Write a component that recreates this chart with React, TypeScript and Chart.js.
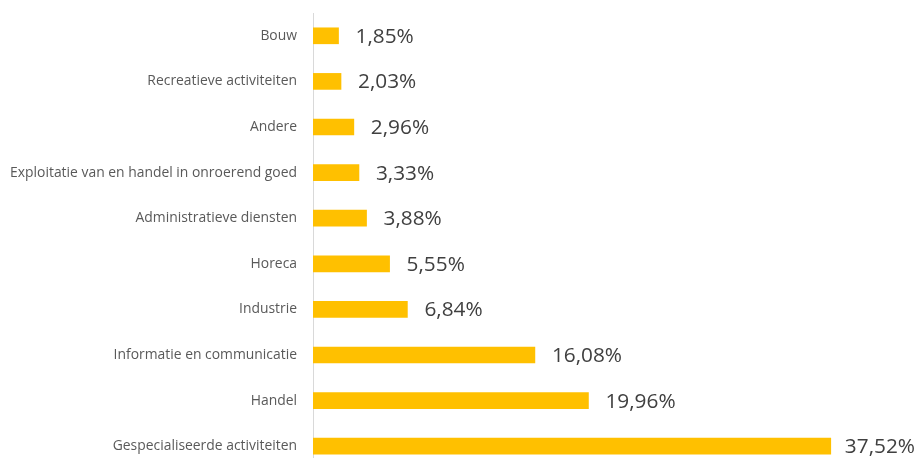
import React, { useEffect, useRef } from "react";
import { Chart, registerables } from "chart.js";

Chart.register(...registerables);

const categories = [
  "Bouw",
  "Recreatieve activiteiten",
  "Andere",
  "Exploitatie van en handel in onroerend goed",
  "Administratieve diensten",
  "Horeca",
  "Industrie",
  "Informatie en communicatie",
  "Handel",
  "Gespecialiseerde activiteiten",
];
const values = [1.85, 2.03, 2.96, 3.33, 3.88, 5.55, 6.84, 16.08, 19.96, 37.52];
const valueLabels = ["1,85%", "2,03%", "2,96%", "3,33%", "3,88%", "5,55%", "6,84%", "16,08%", "19,96%", "37,52%"];

const W = 921;
const H = 470;

const labelPlugin = {
  id: "valueLabels",
  afterDatasetsDraw(chart: any) {
    const ctx = chart.ctx;
    const meta = chart.getDatasetMeta(0);
    ctx.save();
    ctx.font = '20.8px "Open Sans"';
    ctx.fillStyle = "#404040";
    ctx.textBaseline = "middle";
    ctx.textAlign = "left";
    meta.data.forEach((bar: any, i: number) => {
      const text = valueLabels[i];
      const tw = ctx.measureText(text).width;
      const x = Math.min(bar.x + 17, W - tw - 6);
      ctx.fillText(text, x, bar.y + 1);
    });
    ctx.restore();
  },
};

export default function App() {
  const ref = useRef<HTMLCanvasElement | null>(null);
  useEffect(() => {
    if (!ref.current) return;
    const chart = new Chart(ref.current, {
      type: "bar",
      data: {
        labels: categories,
        datasets: [
          {
            data: values,
            backgroundColor: "#FFC000",
            barThickness: 16,
          },
        ],
      },
      options: {
        indexAxis: "y",
        animation: false,
        responsive: false,
        maintainAspectRatio: false,
        layout: { padding: { top: 13, bottom: 1, right: 56, left: 0 } },
        plugins: { legend: { display: false }, tooltip: { enabled: false } },
        scales: {
          x: { display: false, min: 0, max: 40 },
          y: {
            grid: { display: false, drawTicks: false },
            border: { color: "#D9D9D9", width: 1 },
            ticks: {
              color: "#595959",
              font: { family: "Open Sans", size: 13.9 },
              padding: 16,
            },
            afterFit(scale: any) {
              scale.width = 313;
              scale.paddingTop = 0;
              scale.paddingBottom = 0;
            },
          },
        },
      },
      plugins: [labelPlugin],
    });
    return () => chart.destroy();
  }, []);
  return (
    <div style={{ position: "fixed", left: 0, top: 0, width: W, height: H, background: "#fff" }}>
      <canvas ref={ref} width={W} height={H} style={{ width: W, height: H, display: "block" }} />
    </div>
  );
}
